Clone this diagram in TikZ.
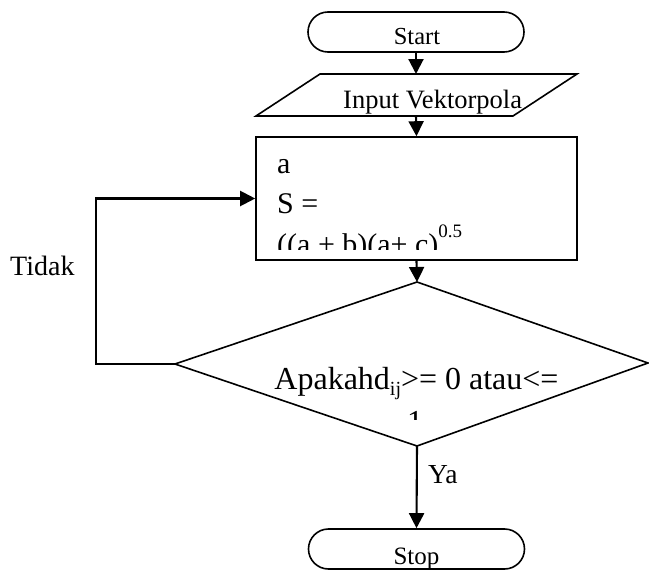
\documentclass[tikz,border=0pt]{standalone}
\usepackage{fontspec}
\setmainfont{Liberation Serif}
\usetikzlibrary{arrows.meta,shapes.misc}
\begin{document}
\begin{tikzpicture}[x=1pt,y=-1pt,
  shapeline/.style={line width=1.6pt},
  conn/.style={line width=2.1pt,-{Triangle[length=15pt,width=15pt]}},
  term/.style={draw,shapeline,rounded rectangle,minimum width=216pt,minimum height=40pt,inner sep=0pt},
  txt/.style={inner sep=0pt,anchor=base},
]
\useasboundingbox (0,0) rectangle (649,570);
% Start
\node[term] (start) at (416,32) {};
\node[txt] (starttext) at (417,45) {\fontsize{24.5}{24.5}\selectfont Start};
% Input parallelogram
\draw[shapeline] (320,74) coordinate (p1) -- (577,74) coordinate (p2) -- (513,116) coordinate (p3) -- (256,116) coordinate (p4) -- cycle;
\coordinate (intop) at (416,74);
\coordinate (inbot) at (416,116);
\node[txt,anchor=base west] (intext) at (343,108) {\fontsize{26.5}{26.5}\selectfont Input Vektorpola};
% Process box
\node[draw,shapeline,minimum width=321pt,minimum height=123pt,inner sep=0pt] (proc) at (416.5,198.5) {};
\begin{scope}
  \clip (257,138) rectangle (576,249);
  \node[txt,anchor=base west] (pa) at (277,173) {\fontsize{30}{30}\selectfont a};
  \node[txt,anchor=base west] (ps) at (277,213) {\fontsize{30}{30}\selectfont S =};
  \node[txt,anchor=base west] (pf) at (277,254) {\fontsize{30}{30}\selectfont ((a + b)(a+ c)\raisebox{17pt}{\fontsize{19}{19}\selectfont 0.5}};
\end{scope}
% Decision diamond
\draw[shapeline] (417,282) coordinate (dtop) -- (648,363) coordinate (dright) -- (417,446) coordinate (dbot) -- (175,364) coordinate (dleft) -- cycle;
\node[txt] (dtext) at (416.5,389) {\fontsize{32}{32}\selectfont Apakahd\raisebox{-6pt}{\fontsize{20}{20}\selectfont ij}>= 0 atau<=};
\begin{scope}
  \clip (300,395) rectangle (530,419);
  \node[txt] (done) at (415,432) {\fontsize{32}{32}\selectfont 1};
\end{scope}
% Stop
\node[term] (stop) at (416.5,549) {};
\node[txt] (stoptext) at (416.5,564) {\fontsize{25}{25}\selectfont Stop};
% Labels
\node[txt,anchor=base west] (tidak) at (10,275) {\fontsize{28}{28}\selectfont Tidak};
\node[txt,anchor=base west] (ya) at (428,483) {\fontsize{27.5}{27.5}\selectfont Ya};
% Connectors
\coordinate (loopc) at (96,364);
\draw[conn] (start.south) -- (intop);
\draw[conn] (inbot) -- (proc.north);
\draw[conn] (proc.south) -- (dtop);
\draw[conn] (dbot) -- (stop.north);
\draw[conn] (dleft) -- (loopc) |- (proc.west);
\end{tikzpicture}
\end{document}
